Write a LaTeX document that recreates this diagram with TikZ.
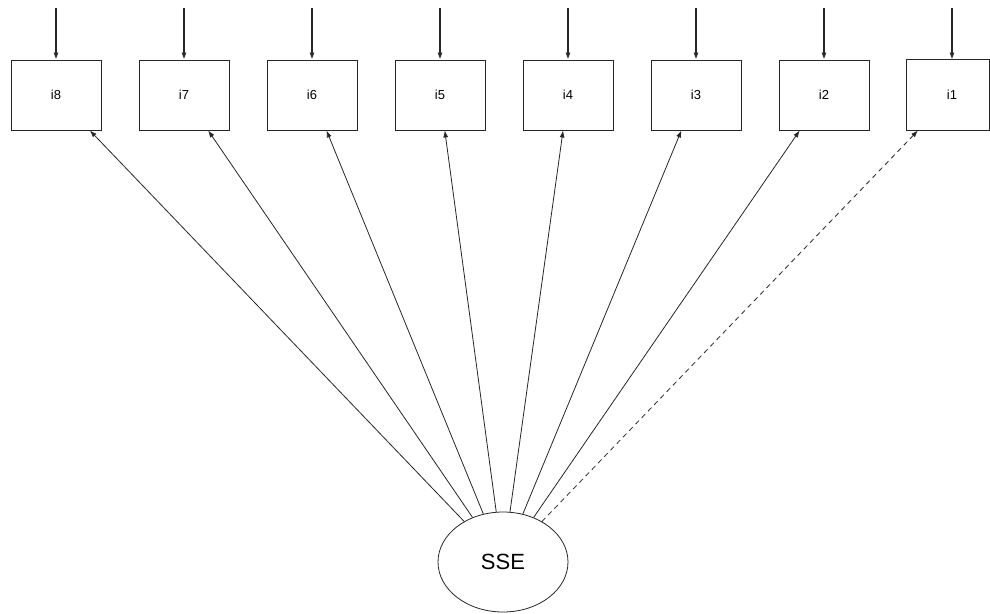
\documentclass[tikz,border=0pt]{standalone}
\usepackage{fontspec}
\setmainfont{Liberation Sans}
\usetikzlibrary{arrows.meta,shapes.geometric}
\begin{document}
\begin{tikzpicture}[x=1pt,y=-1pt,
  box/.style={draw=black!85,line width=0.9pt,minimum width=90pt,minimum height=70pt,inner sep=0pt,font=\fontsize{13}{15}\selectfont},
  lat/.style={ellipse,draw=black!85,line width=0.8pt,minimum width=130pt,minimum height=100pt,inner sep=0pt,font=\fontsize{22}{26}\selectfont},
  arr/.style={draw=black!85,line width=0.8pt,-{Latex[length=7pt,width=5pt]}},
  toparr/.style={arr,line width=1.1pt},
  dsh/.style={arr,dash pattern=on 5pt off 4pt}]
\useasboundingbox (0,0) rectangle (990,613);
\foreach \n/\x in {8/56,7/184,6/312,5/440,4/568,3/696,2/824}{
  \node[box] (i\n) at (\x,95) {i\n};
  \coordinate (t\n) at (\x,8);
  \draw[toparr] (t\n) -- (i\n);
}
\node[box,draw=none] (i1) at (952,95) {i1};
\draw[black!85,line width=0.9pt] (i1.south west) rectangle ([xshift=-8pt]i1.north east);
\coordinate (t1) at (952,8);
\draw[toparr] (t1) -- (i1);
\node[lat] (sse) at (503,562) {SSE};
\foreach \n in {8,7,6,5,4,3,2}{
  \draw[arr] (sse) -- (i\n);
}
\draw[dsh] (sse) -- (i1);
\end{tikzpicture}
\end{document}
